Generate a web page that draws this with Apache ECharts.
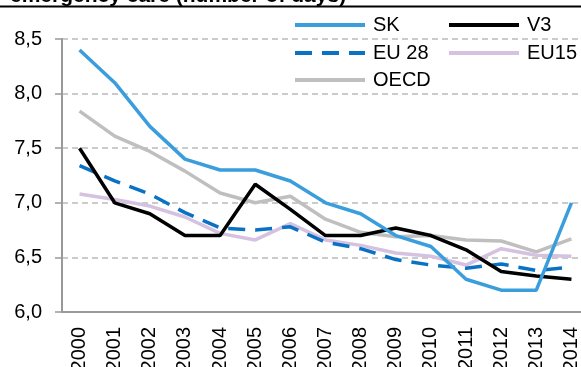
<!DOCTYPE html>
<html>
<head>
<meta charset="utf-8">
<script src="https://cdn.jsdelivr.net/npm/echarts@6/dist/echarts.min.js"></script>
<style>
  html, body { margin: 0; padding: 0; background: #fff; }
  #chart { width: 581px; height: 367px; }
</style>
</head>
<body>
<div id="chart"></div>
<script>
// emergency care (number of days), 2000-2014
var years = ['2000', '2001', '2002', '2003', '2004', '2005', '2006', '2007',
             '2008', '2009', '2010', '2011', '2012', '2013', '2014'];
var sk   = [8.4, 8.1, 7.7, 7.4, 7.3, 7.3, 7.2, 7.0, 6.9, 6.7, 6.6, 6.3, 6.2, 6.2, 7.0];
var v3   = [7.5, 7.0, 6.9, 6.7, 6.7, 7.17, 6.94, 6.7, 6.7, 6.77, 6.7, 6.57, 6.37, 6.33, 6.3];
var eu28 = [7.34, 7.2, 7.08, 6.91, 6.77, 6.75, 6.78, 6.64, 6.58, 6.48, 6.43, 6.4, 6.44, 6.38, 6.41];
var eu15 = [7.08, 7.03, 6.97, 6.87, 6.72, 6.66, 6.81, 6.66, 6.61, 6.54, 6.51, 6.43, 6.58, 6.52, 6.51];
var oecd = [7.84, 7.61, 7.47, 7.29, 7.09, 7.0, 7.06, 6.85, 6.73, 6.69, 6.7, 6.66, 6.65, 6.55, 6.67];

var font = '"Liberation Sans", Arial, sans-serif';

var chart = echarts.init(document.getElementById('chart'), null, { renderer: 'canvas' });

function legendAt(name, left, top) {
  return {
    data: [name],
    left: left,
    top: top,
    padding: 0,
    itemWidth: 70,
    itemHeight: 14,
    selectedMode: false,
    itemStyle: { opacity: 0 },
    lineStyle: { width: 4 },
    textStyle: { fontFamily: font, fontSize: 20, color: '#000', padding: [0, 0, 0, 3] }
  };
}

function line(name, data, color, width, type, z) {
  return {
    name: name,
    type: 'line',
    data: data,
    symbol: 'none',
    z: z,
    lineStyle: { color: color, width: width, type: type },
    itemStyle: { color: color }
  };
}

var option = {
  animation: false,
  graphic: [
    {
      type: 'text',
      style: {
        x: 10,
        y: 7,
        text: 'emergency care (number of days)',
        font: 'bold 21px ' + font,
        fill: '#000',
        verticalAlign: 'bottom'
      }
    },
    {
      type: 'line',
      shape: { x1: 0, y1: 6.5, x2: 581, y2: 6.5 },
      style: { stroke: '#000', lineWidth: 2 }
    }
  ],
  legend: [
    legendAt('SK', 293, 15),
    legendAt('V3', 447, 15),
    legendAt('EU 28', 293, 43),
    legendAt('EU15', 447, 43),
    legendAt('OECD', 293, 70)
  ],
  grid: { left: 62, top: 39, width: 527, height: 273, outerBoundsMode: 'none', containLabel: false },
  xAxis: {
    type: 'category',
    data: years,
    boundaryGap: true,
    axisLine: { lineStyle: { color: '#999', width: 2 } },
    axisTick: { length: 6, lineStyle: { color: '#999', width: 1.5 } },
    axisLabel: { rotate: 90, margin: 15, interval: 0, color: '#000', fontFamily: font, fontSize: 20 },
    splitLine: { show: false }
  },
  yAxis: {
    type: 'value',
    min: 6,
    max: 8.5,
    interval: 0.5,
    axisLine: { show: true, lineStyle: { color: '#999', width: 2 } },
    axisTick: { show: true, length: 7, lineStyle: { color: '#999', width: 1.5 } },
    axisLabel: {
      margin: 20,
      color: '#000',
      fontFamily: font,
      fontSize: 20,
      formatter: function (v) { return v.toFixed(1).replace('.', ','); }
    },
    splitLine: { lineStyle: { color: '#bbb', width: 1.5, type: [6, 4] } }
  },
  series: [
    line('OECD', oecd, '#bfbfbf', 3.5, 'solid', 1),
    line('EU15', eu15, '#d5c1e0', 3.5, 'solid', 2),
    line('EU 28', eu28, '#0a72c4', 3.5, [17, 10], 3),
    line('V3', v3, '#000000', 3.5, 'solid', 4),
    line('SK', sk, '#3a9ddc', 3.5, 'solid', 5)
  ]
};

chart.setOption(option);
</script>
</body>
</html>
